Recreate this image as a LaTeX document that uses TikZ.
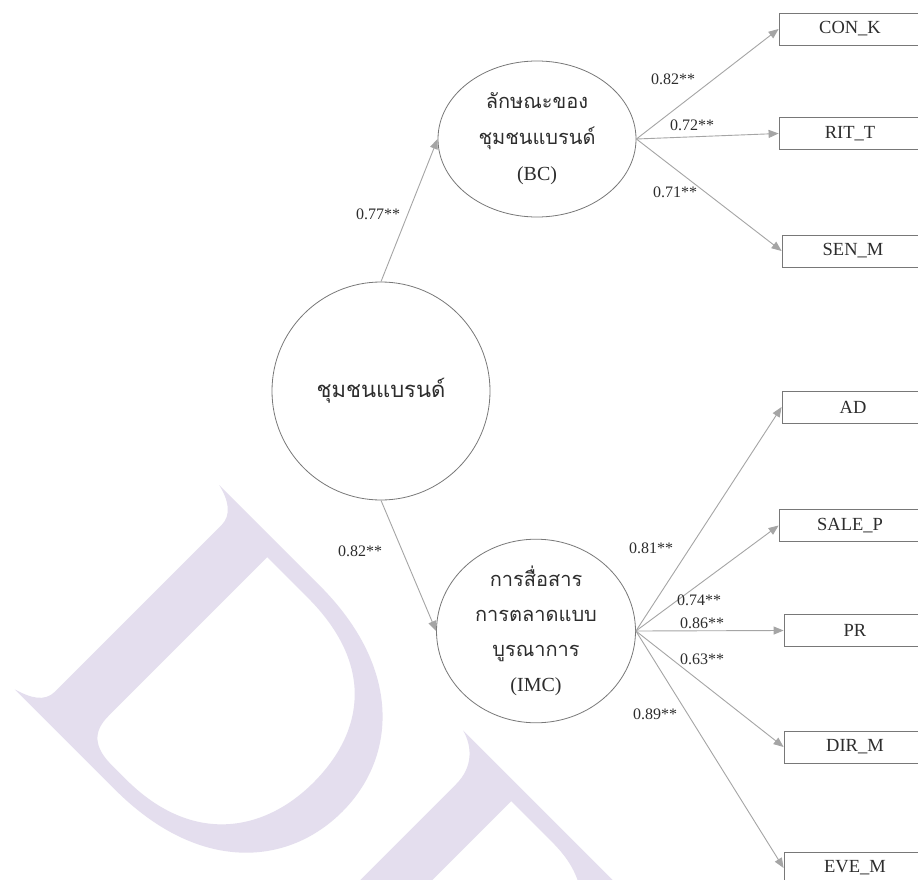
\documentclass[tikz,border=0pt]{standalone}
\usepackage{fontspec}
\setmainfont{Liberation Serif}
\newfontfamily\thai[Script=Thai]{Loma}
\usetikzlibrary{shapes.geometric,arrows.meta}
\definecolor{wm}{RGB}{228,222,238}
\definecolor{ln}{RGB}{165,165,165}
\definecolor{edgec}{RGB}{120,120,120}
\definecolor{txt}{RGB}{45,45,45}
\begin{document}
\begin{tikzpicture}[x=1pt,y=-1pt,
  lat/.style={ellipse,draw=edgec,line width=0.8pt,fill=white,inner sep=0pt,text=txt,align=center},
  obsbox/.style={rectangle,draw=edgec,line width=0.8pt,fill=white,minimum width=142pt,minimum height=32pt,inner sep=0pt,text=txt,font=\fontsize{18.5}{20}\selectfont},
  arr/.style={draw=ln,line width=0.9pt,-{Triangle[length=10pt,width=8pt]}},
  coef/.style={text=txt,font=\fontsize{16}{18}\selectfont,inner sep=0pt}]
\fill[white] (0,0) rectangle (918,880);
\useasboundingbox (0,0) rectangle (918,880);
% watermark
\begin{scope}[x={(0.70711pt,-0.70711pt)},y={(0.70711pt,0.70711pt)}]
  \fill[wm,even odd rule]
    (498,-188) -- (640,-188) .. controls (757,-188) and (816,-255) .. (816,-332)
    .. controls (816,-410) and (757,-477) .. (640,-477) -- (498,-477)
    .. controls (515,-472) and (528,-465) .. (528,-450) -- (528,-215)
    .. controls (528,-200) and (515,-192) .. (498,-188) -- cycle
    (583,-205) -- (640,-205) .. controls (735,-205) and (775,-260) .. (775,-332)
    .. controls (775,-400) and (735,-462) .. (640,-462) -- (620,-462)
    .. controls (595,-462) and (583,-452) .. (583,-430) -- cycle;
  \fill[wm,even odd rule]
    (844,-189) -- (1200,-189) -- (1200,-600) -- (877,-600) -- (877,-232)
    .. controls (877,-208) and (862,-194) .. (844,-189) -- cycle
    (928,-205) -- (985,-205) .. controls (1005,-205) and (1020,-208) .. (1035,-216)
    -- (1150,-300) -- (1150,-600) -- (928,-600) -- cycle;
\end{scope}
% latent variables
\node[lat,minimum width=218pt,minimum height=218pt,font=\thai\fontsize{22}{26}\selectfont] (brand) at (381,391) {ชุมชนแบรนด์};
\node[lat,minimum width=198pt,minimum height=156pt,font=\fontsize{20}{36}\selectfont] (bc) at (537,139) {{\thai ลักษณะของ}\\{\thai ชุมชนแบรนด์}\\(BC)};
\node[lat,minimum width=199pt,minimum height=177pt,font=\fontsize{20}{35}\selectfont] (imc) at (536,631) {{\thai การสื่อสาร}\\{\thai การตลาดแบบ}\\{\thai บูรณาการ}\\(IMC)};
% observed
\node[obsbox] (conk) at (850,29) {CON\_K};
\node[obsbox] (ritt) at (850,133.5) {RIT\_T};
\node[obsbox] (senm) at (853,251) {SEN\_M};
\node[obsbox] (ad) at (853,407) {AD};
\node[obsbox] (salep) at (850,525.5) {SALE\_P};
\node[obsbox] (pr) at (855,630.5) {PR};
\node[obsbox] (dirm) at (855,747) {DIR\_M};
\node[obsbox] (evem) at (855,868) {EVE\_M};
% paths
\draw[arr] (brand.north) -- (bc.west);
\draw[arr] (brand.south) -- (imc.west);
\draw[arr] (bc.east) -- (conk.west);
\draw[arr] (bc.east) -- (ritt.west);
\draw[arr] (bc.east) -- (senm.west);
\draw[arr] (imc.east) -- (ad.west);
\draw[arr] (imc.east) -- (salep.west);
\draw[arr] (imc.east) -- (pr.west);
\draw[arr] (imc.east) -- (dirm.west);
\draw[arr] (imc.east) -- (evem.west);
% coefficients
\node[coef] (k1) at (378,214) {0.77**};
\node[coef] (k2) at (360,551) {0.82**};
\node[coef] (k3) at (673,79) {0.82**};
\node[coef] (k4) at (692,125) {0.72**};
\node[coef] (k5) at (675,192) {0.71**};
\node[coef] (k6) at (651,548) {0.81**};
\node[coef] (k7) at (699,600) {0.74**};
\node[coef] (k8) at (702,623) {0.86**};
\node[coef] (k9) at (702,659) {0.63**};
\node[coef] (k10) at (655,714) {0.89**};
\end{tikzpicture}
\end{document}
